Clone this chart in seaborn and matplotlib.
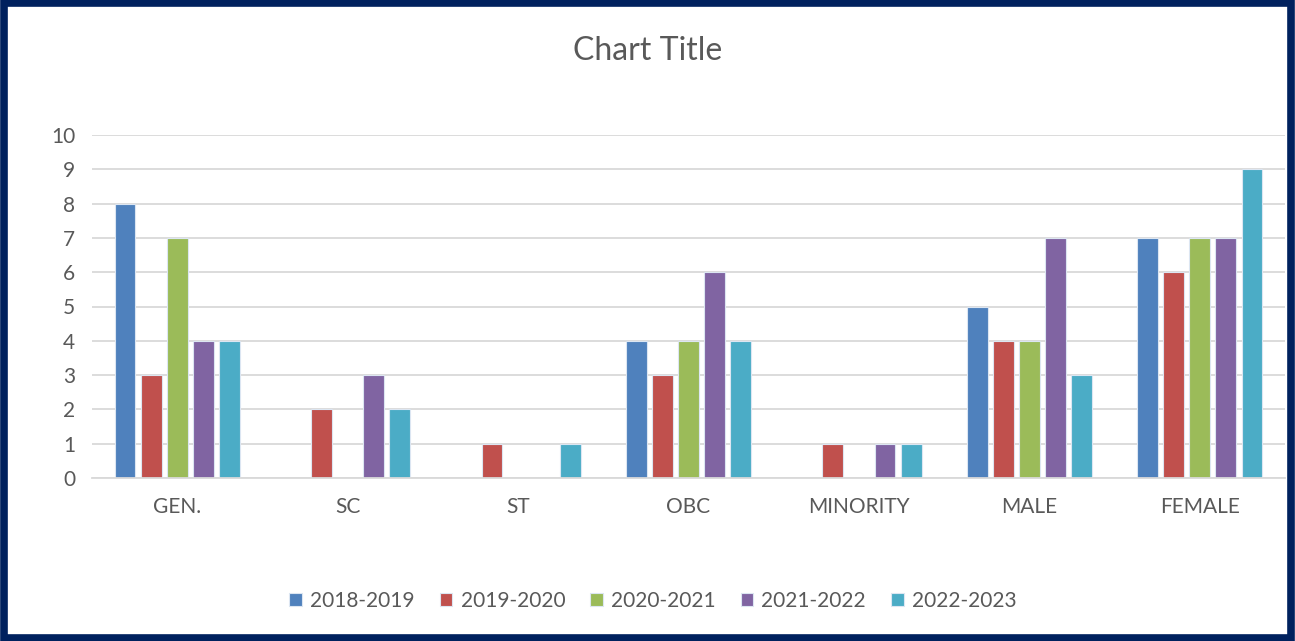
import pandas as pd
import matplotlib
matplotlib.use("Agg")
import matplotlib.pyplot as plt
import seaborn as sns
from matplotlib.patches import Rectangle

categories = ["GEN.", "SC", "ST", "OBC", "MINORITY", "MALE", "FEMALE"]
years = ["2018-2019", "2019-2020", "2020-2021", "2021-2022", "2022-2023"]
v_2018 = [8, 0, 0, 4, 0, 5, 7]
v_2019 = [3, 2, 1, 3, 1, 4, 6]
v_2020 = [7, 0, 0, 4, 0, 4, 7]
v_2021 = [4, 3, 0, 6, 1, 7, 7]
v_2022 = [4, 2, 1, 4, 1, 3, 9]
colors = ["#4F81BD", "#C0504D", "#9BBB59", "#8064A2", "#4BACC6"]

# long format table for seaborn
rows = []
for year, vals in zip(years, [v_2018, v_2019, v_2020, v_2021, v_2022]):
    for cat, v in zip(categories, vals):
        rows.append({"Category": cat, "Year": year, "Value": v})
df = pd.DataFrame(rows)

sns.set_style("white")
plt.rcParams["font.family"] = ["Lato", "DejaVu Sans"]

fig = plt.figure(figsize=(12.95, 6.41), dpi=100)
ax = fig.add_axes([92 / 1295, 1 - 478 / 641, (1285 - 92) / 1295, (478 - 135) / 641])

sns.barplot(data=df, x="Category", y="Value", hue="Year", palette=colors,
            saturation=1, width=0.765, gap=0.2, ax=ax, legend=True,
            edgecolor="#DCE6F2", linewidth=0.8)

ax.set_ylim(0, 10)
ax.set_yticks(range(0, 11))
ax.set_xlim(-0.5, 6.5)
ax.yaxis.grid(True, color="#D9D9D9", linewidth=1.3)
ax.set_axisbelow(True)
for s in ["top", "right", "left"]:
    ax.spines[s].set_visible(False)
ax.spines["bottom"].set_color("#D9D9D9")
ax.spines["bottom"].set_linewidth(1.3)
ax.tick_params(axis="both", length=0, labelsize=15, colors="#595959", pad=12)
ax.tick_params(axis="x", pad=14)
ax.set_xlabel("")
ax.set_ylabel("")

handles, labels = ax.get_legend_handles_labels()
ax.legend(handles, labels, loc="center", bbox_to_anchor=(653 / 1295, 1 - 601 / 641),
          bbox_transform=fig.transFigure, ncol=5, frameon=False, fontsize=15,
          handlelength=0.6, handleheight=0.6, columnspacing=1.2, handletextpad=0.4,
          labelcolor="#595959")

fig.text(0.5, 1 - 51 / 641, "Chart Title", ha="center", va="center",
         fontsize=23, color="#595959")

fig.patches.append(Rectangle((0.003, 0.005), 0.994, 0.99, transform=fig.transFigure,
                             fill=False, edgecolor="#00215E", linewidth=5.5))

fig.savefig("out.png", dpi=100)
